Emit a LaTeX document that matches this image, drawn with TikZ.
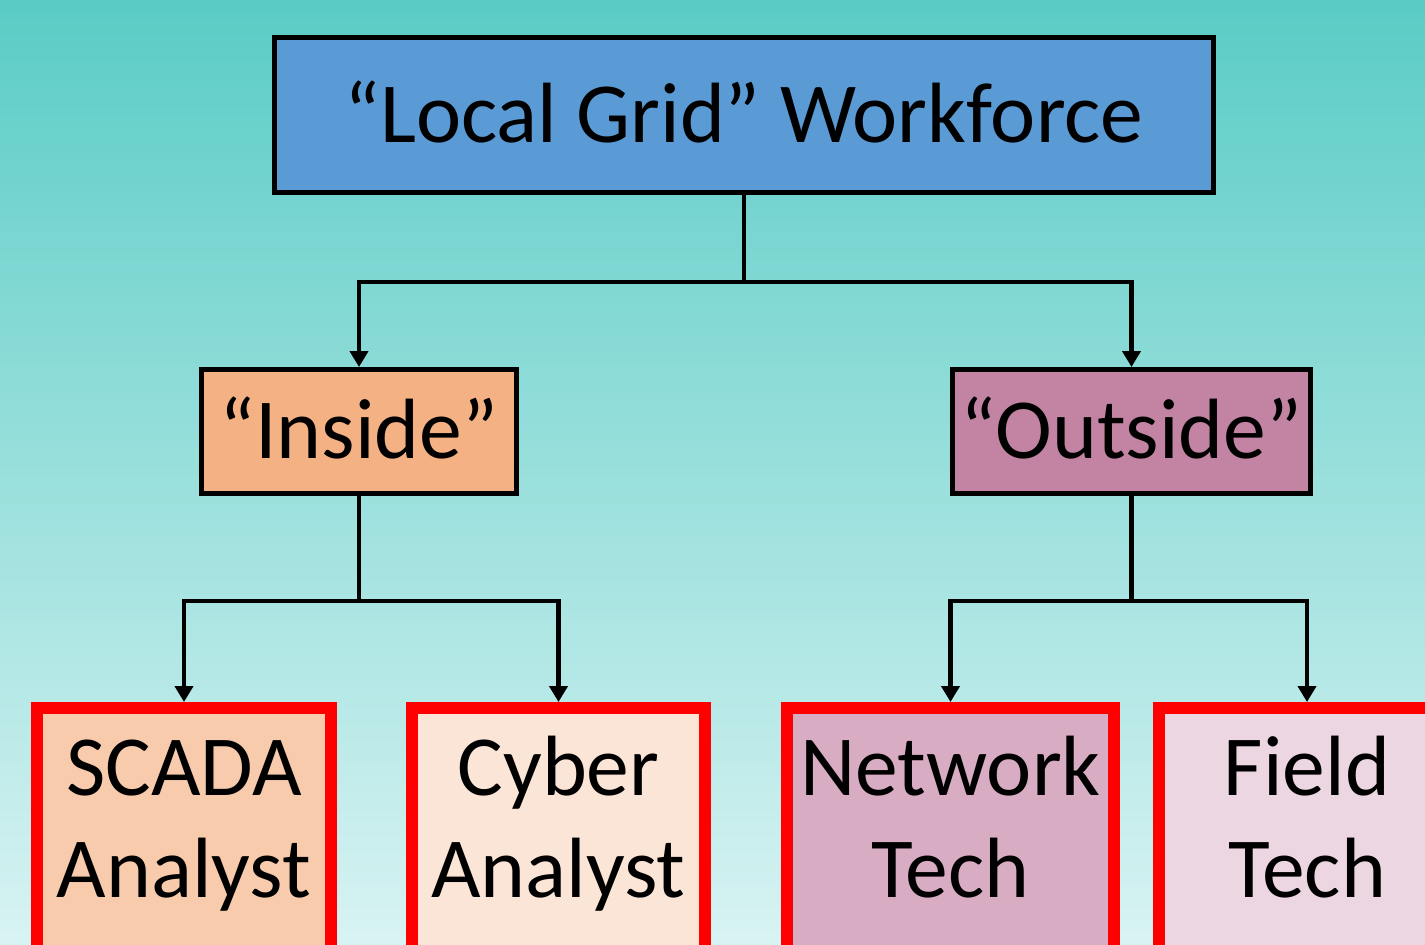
\documentclass[tikz,border=0pt]{standalone}
\usepackage{fontspec}
\setmainfont{Carlito}
\usetikzlibrary{arrows.meta}

\definecolor{bgtop}{HTML}{5ACCC5}
\definecolor{bgbot}{HTML}{D8F3F3}
\definecolor{gridblue}{HTML}{5B9BD5}
\definecolor{insidefill}{HTML}{F4B183}
\definecolor{outsidefill}{HTML}{C284A2}
\definecolor{scadafill}{HTML}{F8CBAD}
\definecolor{cyberfill}{HTML}{FBE5D7}
\definecolor{netfill}{HTML}{D8ACC2}
\definecolor{fieldfill}{HTML}{EBD6E1}

\newcommand{\rolelines}[2]{\rule{0pt}{1.74cm}#1\\#2\rule[-3cm]{0pt}{0pt}}

\begin{document}
\begin{tikzpicture}[x=0.02cm,y=-0.02cm,
  every node/.style={font=\fontsize{48.7}{58.06}\selectfont,text=black,inner sep=0pt},
  headbox/.style={draw=black,line width=0.1cm,text height=1.4cm,text depth=0.32cm},
  rolebox/.style={draw=red,line width=0.24cm,anchor=north,align=center},
  link/.style={line width=0.09cm},
  arr/.style={link,-{Triangle[length=0.32cm,width=0.36cm]}}]
  \useasboundingbox (0,0) rectangle (1425,944);
  \clip (0,0) rectangle (1425,944);
  \shade[top color=bgtop,bottom color=bgbot] (0,0) rectangle (1425,944);

  \node[headbox,fill=gridblue,minimum width=18.78cm,minimum height=3.1cm] (grid) at (744,115) {``Local Grid'' Workforce};
  \node[headbox,fill=insidefill,minimum width=6.3cm,minimum height=2.48cm] (inside) at (359,431.5) {``Inside''};
  \node[headbox,fill=outsidefill,minimum width=7.16cm,minimum height=2.48cm] (outside) at (1131.5,431.5) {``Outside''};

  \node[rolebox,fill=scadafill,minimum width=5.88cm] (scada) at (184,702) {\rolelines{SCADA}{Analyst}};
  \node[rolebox,fill=cyberfill,minimum width=5.86cm] (cyber) at (558.5,702) {\rolelines{Cyber}{Analyst}};
  \node[rolebox,fill=netfill,minimum width=6.54cm] (network) at (950.5,702) {\rolelines{Network}{Tech}};
  \node[rolebox,fill=fieldfill,minimum width=5.92cm] (field) at (1307,702) {\rolelines{Field}{Tech}};

  \draw[link] (grid.south) -- ++(0,87) coordinate (j1);
  \draw[arr] (j1) -| (inside.north);
  \draw[arr] (j1) -| (outside.north);
  \draw[link] (inside.south) -- ++(0,105) coordinate (j2);
  \draw[arr] (j2) -| (scada.north);
  \draw[arr] (j2) -| (cyber.north);
  \draw[link] (outside.south) -- ++(0,105) coordinate (j3);
  \draw[arr] (j3) -| (network.north);
  \draw[arr] (j3) -| (field.north);
\end{tikzpicture}
\end{document}
